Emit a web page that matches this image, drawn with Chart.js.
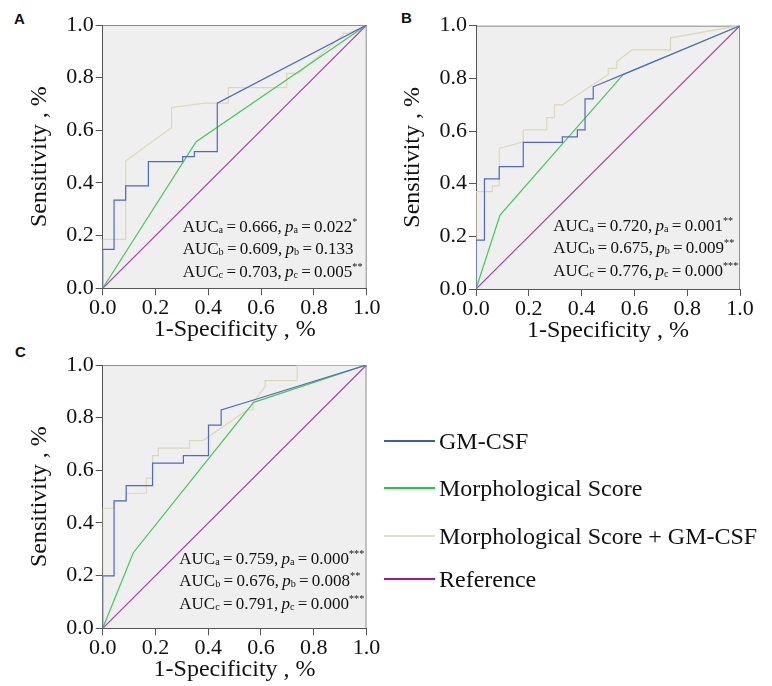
<!DOCTYPE html>
<html lang="en">
<head>
<meta charset="UTF-8" />
<title>ROC curves</title>
<script src="https://cdn.jsdelivr.net/npm/chart.js"></script>
<style>
  body { margin: 0; width: 772px; height: 686px; background: #fff; position: relative; overflow: hidden;
         font-family: 'Liberation Serif', 'Times New Roman', serif; color: #111; }
  canvas { position: absolute; }
  .tag { position: absolute; font: bold 15px 'Liberation Sans', Arial, sans-serif; line-height: 15px; }
  .auc { position: absolute; font-size: 17px; line-height: 22.5px; white-space: nowrap; word-spacing: -1px; }
  .auc sub, .auc sup { font-size: 0.6em; line-height: 0; }
  .auc sub { vertical-align: -0.1em; }
  .auc sup { vertical-align: 0.7em; }
  .leg { position: absolute; left: 384px; height: 24px; display: flex; align-items: center;
         font-size: 24px; line-height: 24px; white-space: nowrap; }
  .leg span.swatch { display: inline-block; width: 51px; height: 2px; margin-right: 4px; }
</style>
</head>
<body>
  <div class="tag" style="left:14px; top:11px">A</div>
  <div class="tag" style="left:401px; top:10px">B</div>
  <div class="tag" style="left:15px; top:344px">C</div>

  <canvas id="rocA" width="390" height="346" style="left:0; top:0"></canvas>
  <canvas id="rocB" width="399" height="346" style="left:373px; top:0"></canvas>
  <canvas id="rocC" width="390" height="346" style="left:0; top:340px"></canvas>

  <div id="aucA" class="auc" style="left:182.7px; top:215.5px"></div>
  <div id="aucB" class="auc" style="left:553.3px; top:214.5px"></div>
  <div id="aucC" class="auc" style="left:179.3px; top:547.5px"></div>

  <div id="legend"></div>

<script>
  // ---- data ----
  const seriesNames = ['GM-CSF', 'Morphological Score', 'Morphological Score + GM-CSF', 'Reference'];
  const tickLabels = ['0.0', '0.2', '0.4', '0.6', '0.8', '1.0'];

  // panel A
  const gmA_x = [0, 0, 0.043, 0.043, 0.087, 0.087, 0.173, 0.173, 0.303, 0.303, 0.347, 0.347, 0.434, 0.434, 1];
  const gmA_y = [0, 0.148, 0.148, 0.335, 0.335, 0.389, 0.389, 0.481, 0.481, 0.5, 0.5, 0.519, 0.519, 0.703, 1];
  const msA_x = [0, 0.354, 1];
  const msA_y = [0, 0.557, 1];
  const combA_x = [0, 0, 0.087, 0.087, 0.261, 0.261, 0.387, 0.476, 0.476, 0.697, 0.697, 0.741, 0.911, 0.911, 0.93, 1];
  const combA_y = [0, 0.186, 0.186, 0.483, 0.611, 0.687, 0.703, 0.703, 0.762, 0.762, 0.816, 0.816, 0.962, 0.968, 0.968, 1];

  // panel B
  const gmB_x = [0, 0, 0.032, 0.032, 0.088, 0.088, 0.179, 0.179, 0.327, 0.327, 0.384, 0.384, 0.413, 0.413, 0.444, 0.444, 0.558, 1];
  const gmB_y = [0, 0.186, 0.186, 0.418, 0.418, 0.465, 0.465, 0.557, 0.557, 0.578, 0.578, 0.604, 0.604, 0.722, 0.722, 0.768, 0.815, 1];
  const msB_x = [0, 0.091, 0.558, 1];
  const msB_y = [0, 0.281, 0.815, 1];
  const combB_x = [0, 0, 0.062, 0.062, 0.088, 0.088, 0.179, 0.179, 0.268, 0.268, 0.297, 0.297, 0.327, 0.501, 0.501, 0.533, 0.533, 0.59, 0.737, 0.737, 1];
  const combB_y = [0, 0.37, 0.37, 0.392, 0.392, 0.534, 0.559, 0.604, 0.604, 0.651, 0.651, 0.699, 0.699, 0.815, 0.838, 0.838, 0.863, 0.908, 0.908, 0.954, 1];

  // panel C
  const gmC_x = [0, 0, 0.043, 0.043, 0.089, 0.089, 0.189, 0.189, 0.306, 0.306, 0.401, 0.401, 0.449, 0.449, 0.572, 1];
  const gmC_y = [0, 0.199, 0.199, 0.484, 0.484, 0.542, 0.542, 0.627, 0.627, 0.656, 0.656, 0.772, 0.772, 0.829, 0.867, 1];
  const msC_x = [0, 0.116, 0.572, 1];
  const msC_y = [0, 0.287, 0.858, 1];
  const combC_x = [0, 0, 0.043, 0.043, 0.089, 0.089, 0.165, 0.165, 0.189, 0.189, 0.211, 0.211, 0.329, 0.329, 0.38, 0.547, 0.57, 0.57, 0.616, 0.616, 0.737, 0.737, 1];
  const combC_y = [0, 0.456, 0.456, 0.484, 0.484, 0.513, 0.513, 0.57, 0.57, 0.656, 0.656, 0.684, 0.684, 0.713, 0.713, 0.829, 0.829, 0.858, 0.918, 0.941, 0.941, 1, 1];

  const refX = [0, 1];
  const refY = [0, 1];

  // AUC / p annotations (a = GM-CSF, b = morphological score, c = combined)
  const aucA = ['0.666', '0.609', '0.703'], pA = ['0.022', '0.133', '0.005'], starA = ['*', '', '**'];
  const aucB = ['0.720', '0.675', '0.776'], pB = ['0.001', '0.009', '0.000'], starB = ['**', '**', '***'];
  const aucC = ['0.759', '0.676', '0.791'], pC = ['0.000', '0.008', '0.000'], starC = ['***', '**', '***'];
  const subs = ['a', 'b', 'c'];

  // ---- styles ----
  const lineColors = ['#5068c4', '#3fcb55', '#ddd8b4', '#a93fa6'];
  const legendColors = ['#3d5bb0', '#1ecb3f', '#e2dfca', '#a0179c'];
  const serif = "'Liberation Serif', 'Times New Roman', serif";
  const X_H = 56;

  const plotFrame = {
    id: 'plotFrame',
    beforeDraw(chart) {
      const { ctx, chartArea: { left, top, right, bottom } } = chart;
      ctx.save();
      ctx.fillStyle = '#efefef';
      ctx.fillRect(left, top, right - left, bottom - top);
      ctx.strokeStyle = '#8f8f8f';
      ctx.lineWidth = 1;
      ctx.beginPath();
      ctx.moveTo(left, top + 0.5);
      ctx.lineTo(right - 0.5, top + 0.5);
      ctx.lineTo(right - 0.5, bottom);
      ctx.stroke();
      ctx.restore();
    }
  };

  function pts(xs, ys) {
    return xs.map((x, i) => ({ x: x, y: ys[i] }));
  }

  function makePanel(id, curves, box) {
    const a = box.area;
    const yw = a.l - box.left;
    const pad = {
      left: 0,
      top: a.t - box.top,
      right: box.left + box.width - a.r,
      bottom: box.top + box.height - a.b - X_H
    };
    const yTitleOff = a.l - 63 - box.left;

    new Chart(document.getElementById(id), {
      type: 'scatter',
      data: {
        datasets: curves.map((c, i) => ({
          label: seriesNames[i],
          data: pts(c[0], c[1]),
          showLine: true,
          borderColor: lineColors[i],
          borderWidth: 1.2,
          pointRadius: 0,
          tension: 0,
          fill: false
        }))
      },
      options: {
        responsive: false,
        animation: false,
        devicePixelRatio: 1,
        layout: { padding: pad },
        plugins: { legend: { display: false }, tooltip: { enabled: false } },
        scales: {
          x: {
            type: 'linear', min: 0, max: 1, position: 'bottom',
            ticks: {
              stepSize: 0.2, padding: 0, color: '#111', maxRotation: 0, autoSkip: false,
              font: { family: serif, size: 22 },
              callback: v => tickLabels[Math.round(v / 0.2)]
            },
            grid: { drawOnChartArea: false, tickLength: 7, color: '#555' },
            border: { color: '#555', width: 1 },
            title: {
              display: true, text: '1-Specificity , %', color: '#111',
              font: { family: serif, size: 24 },
              padding: { top: 0, bottom: X_H - 41.5 - 14.4 }
            },
            afterFit: s => { s.height = X_H; }
          },
          y: {
            type: 'linear', min: 0, max: 1, position: 'left',
            ticks: {
              stepSize: 0.2, padding: 2, color: '#111',
              font: { family: serif, size: 22 },
              callback: v => tickLabels[Math.round(v / 0.2)]
            },
            grid: { drawOnChartArea: false, tickLength: 7, color: '#555' },
            border: { color: '#555', width: 1 },
            title: {
              display: true, text: 'Sensitivity , %', color: '#111',
              font: { family: serif, size: 24 },
              padding: { top: yTitleOff - 14.4, bottom: 0 }
            },
            afterFit: s => { s.width = yw; }
          }
        }
      },
      plugins: [plotFrame]
    });
  }

  makePanel('rocA',
    [[gmA_x, gmA_y], [msA_x, msA_y], [combA_x, combA_y], [refX, refY]],
    { left: 0, top: 0, width: 390, height: 346, area: { l: 102.7, t: 25, r: 366.7, b: 288.3 } });
  makePanel('rocB',
    [[gmB_x, gmB_y], [msB_x, msB_y], [combB_x, combB_y], [refX, refY]],
    { left: 373, top: 0, width: 399, height: 346, area: { l: 476, t: 25.7, r: 740, b: 289 } });
  makePanel('rocC',
    [[gmC_x, gmC_y], [msC_x, msC_y], [combC_x, combC_y], [refX, refY]],
    { left: 0, top: 340, width: 390, height: 346, area: { l: 102.7, t: 365, r: 366.5, b: 628.3 } });

  // annotation text
  function fillAuc(id, auc, p, star) {
    document.getElementById(id).innerHTML = auc.map((v, i) =>
      `AUC<sub>${subs[i]}</sub> = ${v}, <i>p</i><sub>${subs[i]}</sub> = ${p[i]}<sup>${star[i]}</sup>`
    ).join('<br>');
  }
  fillAuc('aucA', aucA, pA, starA);
  fillAuc('aucB', aucB, pB, starB);
  fillAuc('aucC', aucC, pC, starC);

  // legend
  const legendRowY = [441.3, 488.3, 535.7, 578.5];
  document.getElementById('legend').innerHTML = seriesNames.map((n, i) =>
    `<div class="leg" style="top:${legendRowY[i] - 12}px"><span class="swatch" style="background:${legendColors[i]}"></span>${n}</div>`
  ).join('');
</script>
</body>
</html>
